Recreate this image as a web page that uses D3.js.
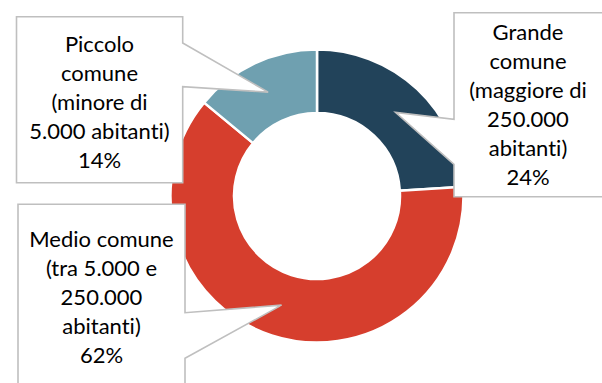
<!DOCTYPE html>
<html>
<head>
<meta charset="utf-8">
<script src="https://cdn.jsdelivr.net/npm/d3@7"></script>
<style>
  html, body { margin: 0; padding: 0; background: #fff; }
  svg { display: block; }
  text { font-variant-ligatures: none; font-feature-settings: "liga" 0; }
</style>
</head>
<body>
<svg id="chart" width="602" height="383"></svg>
<script>
// Dimensione del comune di residenza
const categories = ["Grande comune", "Medio comune", "Piccolo comune"];
const values = [24, 62, 14];
const labelLines = [
  ["Grande", "comune", "(maggiore di", "250.000", "abitanti)"],
  ["Medio comune", "(tra 5.000 e", "250.000", "abitanti)"],
  ["Piccolo", "comune", "(minore di", "5.000 abitanti)"]
];
const colors = ["#22435A", "#D63E2D", "#6FA0B0"];

const svg = d3.select("#chart");
const cx = 317, cy = 196;
const outerR = 146.5, innerR = 83;

const pie = d3.pie().sort(null).value(d => d.value).startAngle(0).endAngle(2 * Math.PI);
const arc = d3.arc().innerRadius(innerR).outerRadius(outerR);

const rows = categories.map((c, i) => ({ name: c, value: values[i], lines: labelLines[i], color: colors[i] }));
const arcs = pie(rows);

const g = svg.append("g").attr("transform", `translate(${cx},${cy})`);
g.selectAll("path.slice")
  .data(arcs)
  .join("path")
  .attr("class", "slice")
  .attr("d", arc)
  .attr("fill", d => d.data.color)
  .attr("stroke", "#fff")
  .attr("stroke-width", 2.5)
  .attr("stroke-linejoin", "miter");

// Callout boxes: rectangle edges plus the side that carries the pointer
const callouts = [
  { x0: 454, x1: 612, y0: 12.7, y1: 196.7, side: "left", p1: 119.3, p2: 164.3, tx: 528, ty: 40 },
  { x0: 18, x1: 185, y0: 204.3, y1: 392, side: "right", p1: 312.7, p2: 358.3, tx: 101.5, ty: 246.7 },
  { x0: 16.5, x1: 182.7, y0: 16.7, y1: 182.7, side: "right", p1: 43, p2: 86.7, tx: 99.5, ty: 51.7 }
];
const lineH = 29;

arcs.forEach((a, i) => {
  const c = callouts[i];
  const [tx, ty] = arc.centroid(a);
  const tipX = cx + tx, tipY = cy + ty;
  const p = d3.path();
  if (c.side === "right") {
    p.moveTo(c.x0, c.y0);
    p.lineTo(c.x1, c.y0);
    p.lineTo(c.x1, c.p1);
    p.lineTo(tipX, tipY);
    p.lineTo(c.x1, c.p2);
    p.lineTo(c.x1, c.y1);
    p.lineTo(c.x0, c.y1);
    p.closePath();
  } else {
    p.moveTo(c.x0, c.y0);
    p.lineTo(c.x1, c.y0);
    p.lineTo(c.x1, c.y1);
    p.lineTo(c.x0, c.y1);
    p.lineTo(c.x0, c.p2);
    p.lineTo(tipX, tipY);
    p.lineTo(c.x0, c.p1);
    p.closePath();
  }
  svg.append("path")
    .attr("d", p.toString())
    .attr("fill", "#fff")
    .attr("stroke", "#BFBFBF")
    .attr("stroke-width", 1.6)
    .attr("stroke-linejoin", "miter");

  const lines = a.data.lines.concat([a.data.value + "%"]);
  const t = svg.append("text")
    .attr("text-anchor", "middle")
    .attr("font-family", "Lato, 'Open Sans', sans-serif")
    .attr("font-size", 22)
    .attr("fill", "#000");
  lines.forEach((ln, j) => {
    t.append("tspan").attr("x", c.tx).attr("y", c.ty + j * lineH).text(ln);
  });
});
</script>
</body>
</html>
